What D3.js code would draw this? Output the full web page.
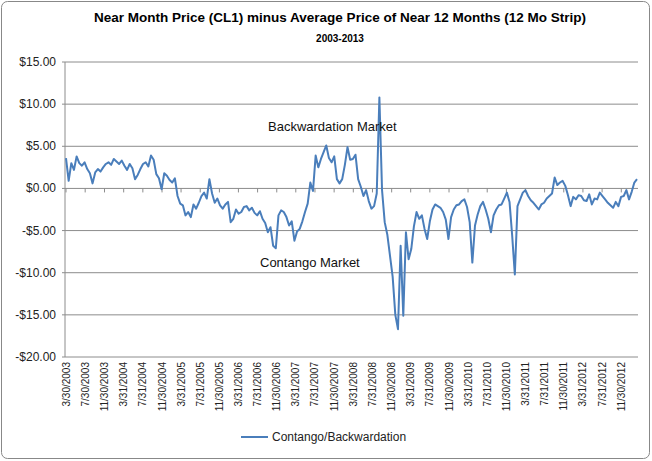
<!DOCTYPE html>
<html><head><meta charset="utf-8">
<script src="https://cdn.jsdelivr.net/npm/d3@7"></script>
<style>
body{margin:0;background:#fff;font-family:"Liberation Sans",Arial,sans-serif;}
</style></head>
<body><svg id="chart" width="652" height="461"></svg>
<script>
// evenly spaced samples from 3/30/2003 to about 3/10/2013
const values = [
 3.6,0.9, 3.0,2.2, 3.8,3.0, 2.7,3.1, 2.3,1.8, 0.6,1.9, 2.3,2.0, 2.5,2.9, 3.1,2.8, 3.5,3.2,
 2.9,3.3, 2.7,2.2, 2.9,2.4, 1.1,1.6, 2.3,2.9, 3.1,2.6, 3.9,3.4, 1.7,1.2, -0.1,1.8, 1.5,1.0,
 0.7,1.2, -0.9,-1.8, -2.0,-3.2, -2.8,-3.4, -1.9,-2.4, -1.7,-0.9, -0.5,-1.2, 1.1,-0.6, -1.7,-1.2, -2.0,-2.4,
 -1.9,-1.6, -4.0,-3.6, -2.5,-3.0, -2.8,-2.2, -2.1,-2.6, -2.3,-2.9, -3.2,-2.7, -3.6,-4.1, -5.2,-4.6, -6.8,-7.1,
 -3.2,-2.6, -2.8,-3.4, -4.4,-3.9, -6.2,-5.1, -4.8,-3.9, -2.8,-1.8, 0.7,-0.3, 3.9,2.5, 3.5,4.3, 5.1,3.6,
 3.1,3.8, 1.1,0.6, 1.1,2.8, 4.9,3.4, 3.5,4.0, 1.1,0.2, -0.9,-0.2, -1.5,-2.4, -2.1,-0.6, 10.8,-0.2,
 -4.0,-5.5, -8.0,-10.5, -15.0,-16.7, -6.8,-15.1, -5.2,-8.4, -7.2,-4.5, -2.8,-3.6, -3.2,-4.8, -6.0,-3.9, -2.5,-1.9,
 -2.1,-2.3, -2.8,-3.7, -6.0,-3.4, -2.5,-2.0, -1.9,-1.5, -1.3,-2.2, -4.0,-8.8, -4.4,-3.1, -2.1,-1.6, -2.5,-3.6,
 -5.2,-3.2, -2.5,-2.0, -1.9,-1.2, -0.5,-1.6, -5.6,-10.2, -2.1,-1.3, -0.5,-0.2, -0.9,-1.4, -1.7,-2.1, -2.5,-1.9,
 -1.7,-1.2, -0.9,-0.6, 1.3,0.4, 0.7,0.9, 0.3,-0.8, -2.1,-1.0, -1.3,-0.8, -0.9,-1.4, -1.5,-0.7, -1.9,-1.2,
 -1.3,-0.5, -0.9,-1.3, -1.7,-2.0, -2.3,-1.6, -2.1,-1.0, -0.9,-0.2, -1.3,-0.4, 0.7,1.1
];
const tickLabels = ["3/30/2003","7/30/2003","11/30/2003","3/31/2004","7/31/2004","11/30/2004",
 "3/31/2005","7/31/2005","11/30/2005","3/31/2006","7/31/2006","11/30/2006","3/31/2007","7/31/2007",
 "11/30/2007","3/31/2008","7/31/2008","11/30/2008","3/31/2009","7/31/2009","11/30/2009","3/31/2010",
 "7/31/2010","11/30/2010","3/31/2011","7/31/2011","11/30/2011","3/31/2012","7/31/2012","11/30/2012"];
const yTicks = [15,10,5,0,-5,-10,-15,-20];

const svg = d3.select("#chart");
const parse = d3.timeParse("%m/%d/%Y");
const start = parse("3/30/2003");
const end = parse("3/10/2013");
const tScale = d3.scaleLinear().domain([0, values.length-1]).range([start.getTime(), end.getTime()]);
const data = values.map((v,i)=>({date:new Date(tScale(i)), v}));

const x = d3.scaleTime().domain([start, end]).range([66,637]);
const y = d3.scaleLinear().domain([-20,15]).range([357,62]);

svg.append("rect").attr("x",1.5).attr("y",1.5).attr("width",648).attr("height",457).attr("rx",6)
 .attr("fill","#fff").attr("stroke","#888").attr("stroke-width",1);

svg.append("text").attr("x",340).attr("y",22).attr("text-anchor","middle")
 .attr("font-size",13.5).attr("font-weight","bold")
 .text("Near Month Price (CL1) minus Average Price of Near 12 Months (12 Mo Strip)");
svg.append("text").attr("x",340).attr("y",42).attr("text-anchor","middle")
 .attr("font-size",10).attr("font-weight","bold").text("2003-2013");

svg.append("g").selectAll("line").data(yTicks).join("line")
 .attr("x1",62).attr("x2",638).attr("y1",d=>y(d)).attr("y2",d=>y(d))
 .attr("stroke","#8c8c8c").attr("stroke-width",1);
svg.append("g").selectAll("text").data(yTicks).join("text")
 .attr("x",56).attr("y",d=>y(d)+4).attr("text-anchor","end").attr("font-size",12).attr("fill","#222")
 .text(d=>(d<0?"-$":"$")+Math.abs(d).toFixed(2));
svg.append("line").attr("x1",65).attr("x2",65).attr("y1",62).attr("y2",357).attr("stroke","#8c8c8c");

const tickDates = tickLabels.map(parse);
svg.append("g").selectAll("line").data(tickDates).join("line")
 .attr("x1",d=>x(d)).attr("x2",d=>x(d)).attr("y1",y(0)).attr("y2",y(0)+4).attr("stroke","#8c8c8c");
svg.append("g").selectAll("text").data(tickLabels).join("text")
 .attr("transform",d=>`translate(${x(parse(d))+3.5},362) rotate(-90)`)
 .attr("text-anchor","end").attr("font-size",10).attr("fill","#222").text(d=>d);

svg.append("path").datum(data).attr("fill","none").attr("stroke","#4a7ebb").attr("stroke-width",2)
 .attr("stroke-linejoin","round").attr("d",d3.line().x(d=>x(d.date)).y(d=>y(d.v)));

svg.append("text").attr("x",268).attr("y",131).attr("font-size",13).attr("fill","#111").text("Backwardation Market");
svg.append("text").attr("x",260).attr("y",267).attr("font-size",13).attr("fill","#111").text("Contango Market");

svg.append("line").attr("x1",241).attr("x2",268).attr("y1",437).attr("y2",437).attr("stroke","#4a7ebb").attr("stroke-width",2);
svg.append("text").attr("x",272).attr("y",441).attr("font-size",12).attr("fill","#222").text("Contango/Backwardation");
</script></body></html>
